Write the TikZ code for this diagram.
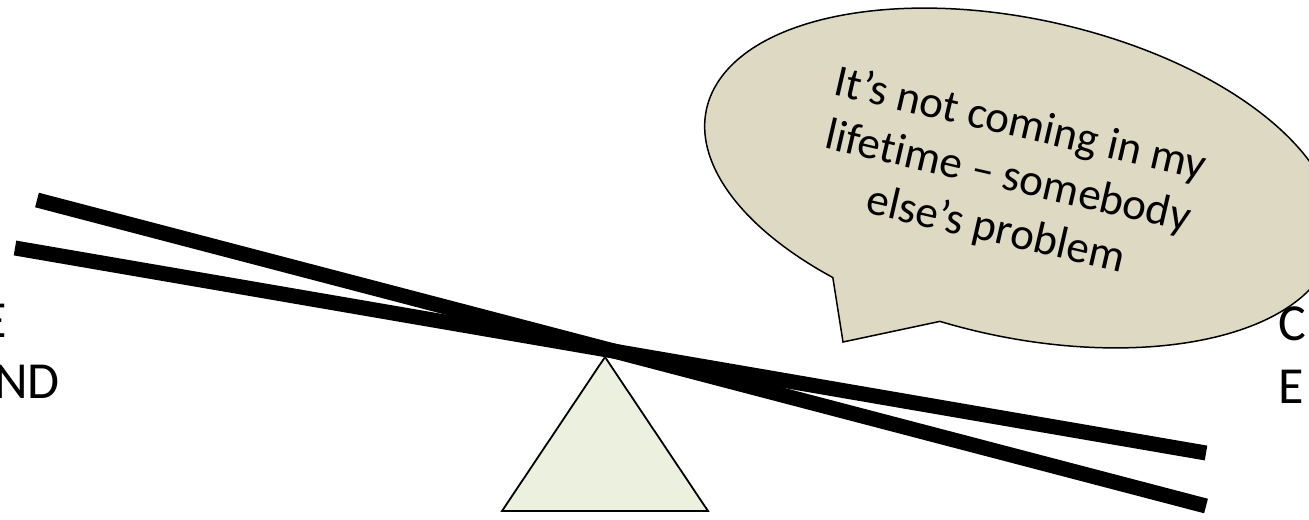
\documentclass[tikz,border=0pt]{standalone}
\usepackage{fontspec}
\setmainfont{Carlito}[Ligatures=NoCommon]
\usepackage{tikz}
\usepackage{xcolor}
\definecolor{bubblefill}{HTML}{DDD9C3}
\definecolor{basefill}{HTML}{EBF1DE}

\begin{document}
\begin{tikzpicture}[x=0.5pt, y=-0.5pt,
    beam/.style={line width=7.5pt},
    side/.style={inner sep=0pt, font=\fontsize{26}{31}\selectfont}]
  \useasboundingbox (0,0) rectangle (1309,519);
  \clip (0,0) rectangle (1309,519);

  % fulcrum
  \coordinate (apex) at (605,357);
  \filldraw[fill=basefill, line width=0.9pt] (apex) -- (708,511) -- (502,511) -- cycle;

  % the two beams
  \coordinate (a1) at (37,200);
  \coordinate (a2) at (1206,506);
  \coordinate (b1) at (15,248);
  \coordinate (b2) at (1206,453);
  \draw[beam] (a1) -- (a2);
  \draw[beam] (b1) -- (b2);

  % speech bubble
  \coordinate (tail) at (843,342);
  \begin{scope}[shift={(1020,178)}, rotate=-12.4]
    \filldraw[fill=bubblefill, line width=0.75pt]
      (98.5:321 and 159) arc[start angle=98.5, end angle=-239.8, x radius=321, y radius=159]
      -- (tail) -- cycle;
  \end{scope}
  \node[rotate=-13, align=center, inner sep=0pt, font=\fontsize{22.5}{27}\selectfont] (quote) at (1008,178)
    {It’s not coming in my\\lifetime – somebody\\else’s problem};

  % side labels
  \node[side, anchor=base east] (ltop) at (7,337) {E};
  \node[side, anchor=base east] (lbot) at (60,398) {ND};
  \node[side, anchor=base west] (rtop) at (1278,340) {C};
  \node[side, anchor=base west] (rbot) at (1278,403) {E};
\end{tikzpicture}
\end{document}
